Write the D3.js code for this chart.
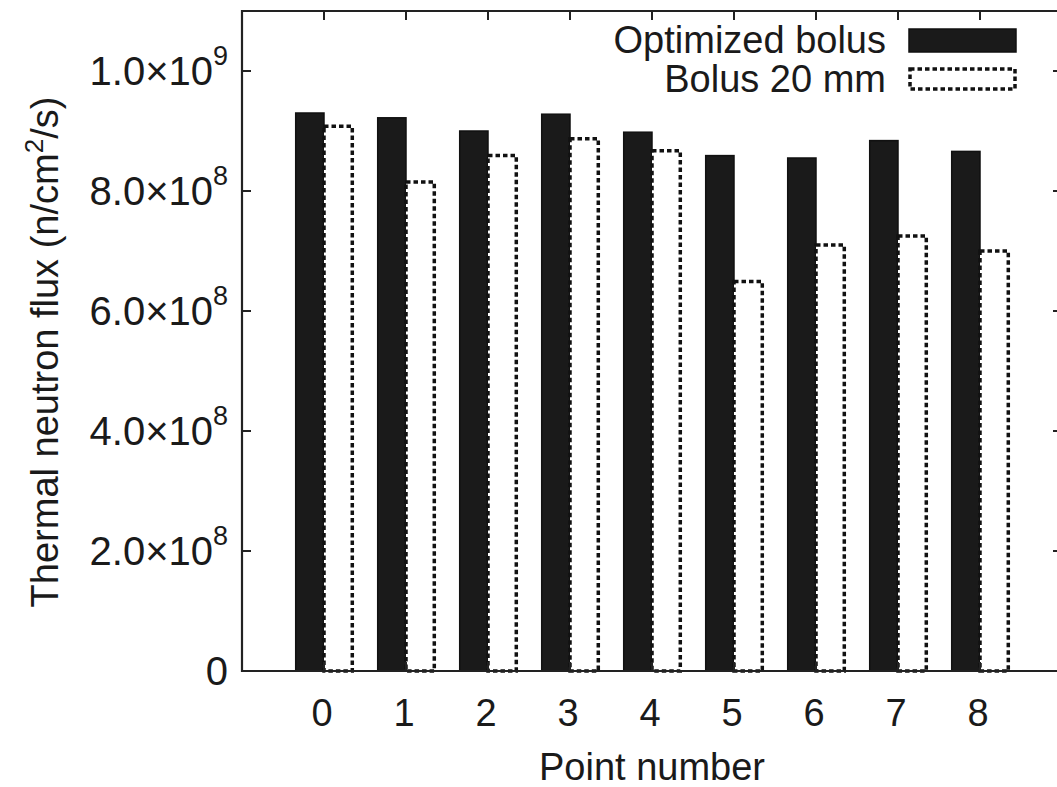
<!DOCTYPE html>
<html><head><meta charset="utf-8">
<script src="https://cdn.jsdelivr.net/npm/d3@7"></script>
<style>body{margin:0;background:#fff}svg{display:block}text{font-family:"Liberation Sans",Arial,sans-serif;fill:#1a1a1a}</style>
</head><body><svg id="c" width="1057" height="787"></svg>
<script>
const categories = ["0","1","2","3","4","5","6","7","8"];
const optimized = [0.930e9,0.922e9,0.900e9,0.928e9,0.898e9,0.859e9,0.855e9,0.884e9,0.866e9];
const bolus20 = [0.908e9,0.815e9,0.859e9,0.887e9,0.867e9,0.649e9,0.710e9,0.725e9,0.700e9];
const seriesNames = ["Optimized bolus","Bolus 20 mm"];
const yTicks = [0,2e8,4e8,6e8,8e8,1e9];
const yTickLabels = [["0",""],["2.0×10","8"],["4.0×10","8"],["6.0×10","8"],["8.0×10","8"],["1.0×10","9"]];

const svg = d3.select("#c");
const L=242, R=1062, T=11, B=671;
const x = d3.scaleLinear().domain([-1,9]).range([L,R]);
const y = d3.scaleLinear().domain([0,1.1e9]).range([B,T]);
const bw = 0.345;
const FS = 38, FSS = 26, FT = 40;

// bars
svg.append("g").selectAll("rect").data(optimized).join("rect")
  .attr("x",(d,i)=>x(i-bw)).attr("width",x(bw)-x(0))
  .attr("y",d=>y(d)).attr("height",d=>B-y(d))
  .attr("fill","#1a1a1a").attr("stroke","#111").attr("stroke-width",1.5);
svg.append("g").selectAll("rect").data(bolus20).join("rect")
  .attr("x",(d,i)=>x(i)).attr("width",x(bw)-x(0))
  .attr("y",d=>y(d)).attr("height",d=>B-y(d))
  .attr("fill","#fff").attr("stroke","#111").attr("stroke-width",3.5).attr("stroke-dasharray","4.5,3");

// frame
svg.append("path").attr("d",`M${L},${T}H${R}V${B}H${L}Z`).attr("fill","none").attr("stroke","#222").attr("stroke-width",2.2);

// y ticks
const gy = svg.append("g");
yTicks.forEach((v,i)=>{
  if(v>0){
    gy.append("line").attr("x1",L).attr("x2",L+9).attr("y1",y(v)).attr("y2",y(v)).attr("stroke","#222").attr("stroke-width",2);
    gy.append("line").attr("x1",R-9).attr("x2",R).attr("y1",y(v)).attr("y2",y(v)).attr("stroke","#222").attr("stroke-width",2);
  }
  const [base,exp]=yTickLabels[i];
  gy.append("text").attr("x",exp?213:228).attr("y",y(v)+14).attr("text-anchor","end").attr("font-size",FT).text(base);
  if(exp) gy.append("text").attr("x",213).attr("y",y(v)-6).attr("font-size",FSS+1).text(exp);
});
// x ticks
const gx = svg.append("g");
categories.forEach((c,i)=>{
  gx.append("line").attr("x1",x(i)).attr("x2",x(i)).attr("y1",T).attr("y2",T+9).attr("stroke","#222").attr("stroke-width",2);
  gx.append("line").attr("x1",x(i)).attr("x2",x(i)).attr("y1",B).attr("y2",B-9).attr("stroke","#222").attr("stroke-width",2);
  gx.append("text").attr("x",x(i)-2).attr("y",726).attr("text-anchor","middle").attr("font-size",FS).text(c);
});

// axis titles
svg.append("text").attr("x",652).attr("y",780).attr("text-anchor","middle").attr("font-size",FS).text("Point number");
const yt = svg.append("text").attr("transform","translate(58,352) rotate(-90)").attr("text-anchor","middle").attr("font-size",FS);
yt.append("tspan").text("Thermal neutron flux (n/cm");
yt.append("tspan").attr("font-size",FSS).attr("dy",-15).text("2");
yt.append("tspan").attr("dy",15).text("/s)");

// legend
const lg = svg.append("g");
lg.append("text").attr("x",886).attr("y",53).attr("text-anchor","end").attr("font-size",FS).text(seriesNames[0]);
lg.append("text").attr("x",886).attr("y",92).attr("text-anchor","end").attr("font-size",FS).text(seriesNames[1]);
lg.append("rect").attr("x",909).attr("y",29).attr("width",107).attr("height",23).attr("fill","#1a1a1a").attr("stroke","#111").attr("stroke-width",1.5);
lg.append("rect").attr("x",910).attr("y",69).attr("width",105).attr("height",20).attr("fill","#fff").attr("stroke","#111").attr("stroke-width",3.5).attr("stroke-dasharray","4.5,3");
</script></body></html>
